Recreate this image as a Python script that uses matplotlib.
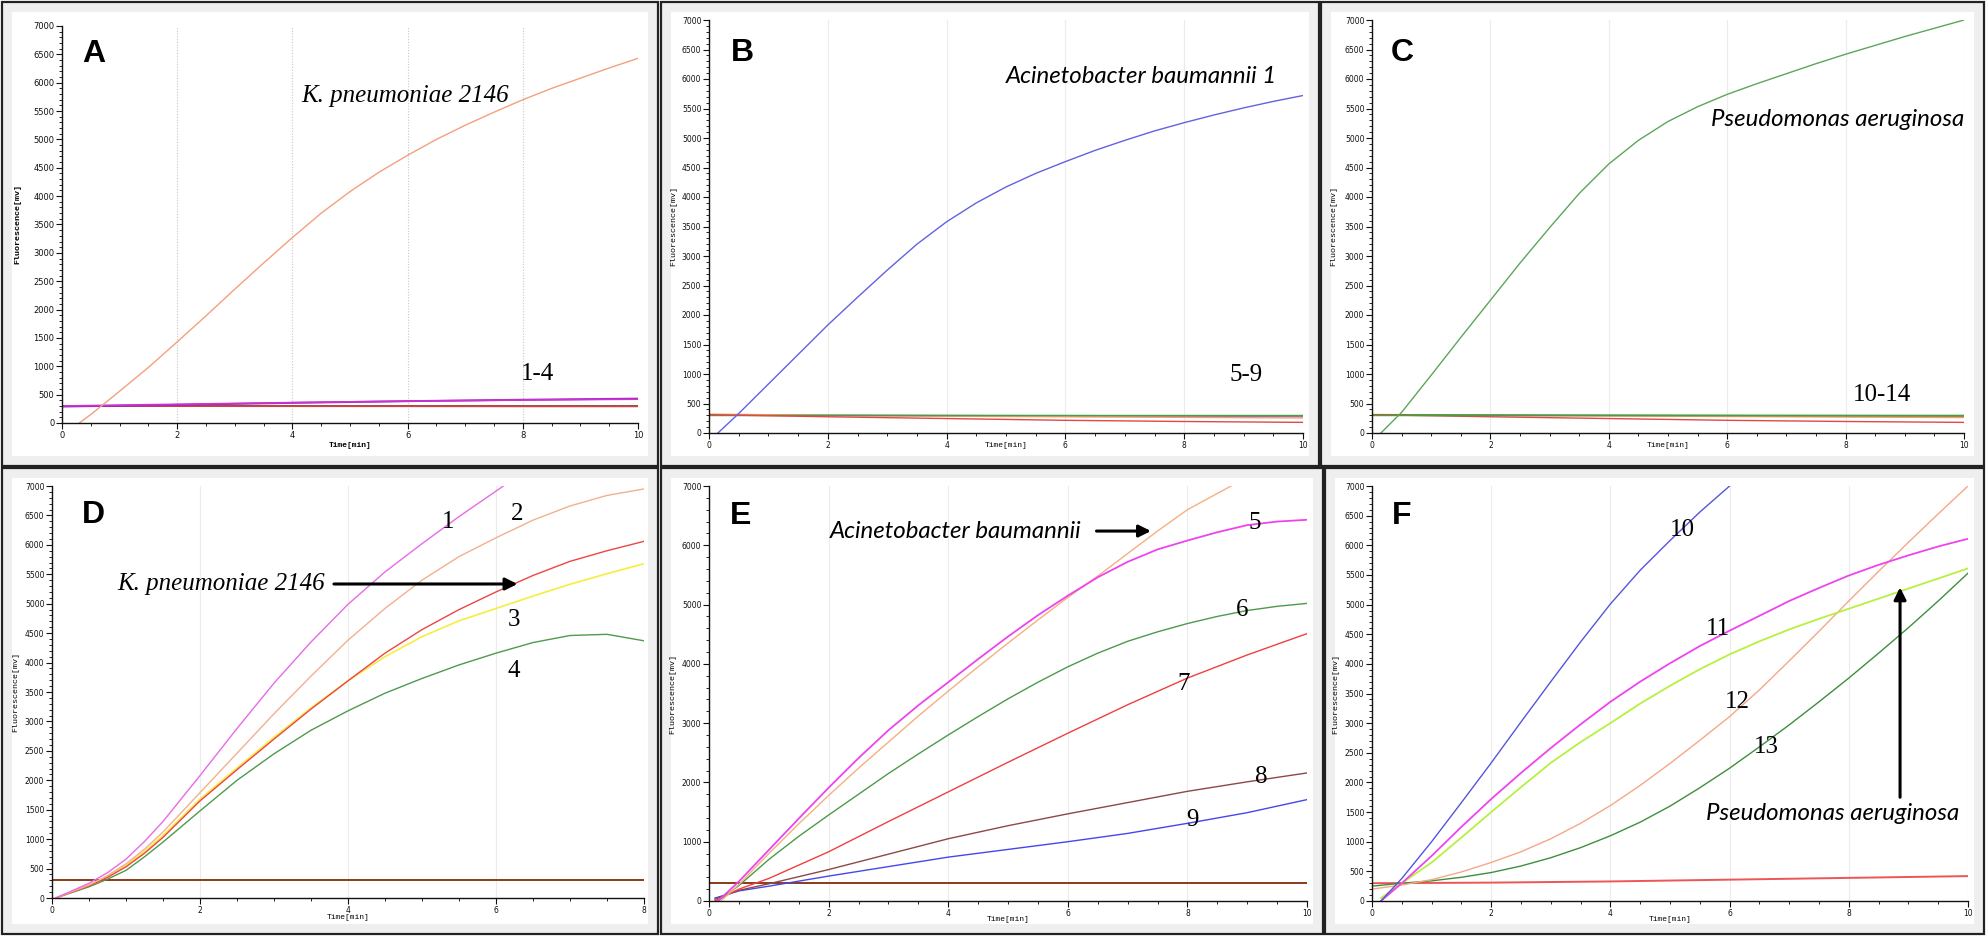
import matplotlib
matplotlib.use("Agg")
import matplotlib.pyplot as plt
from matplotlib.patches import Rectangle
from matplotlib.ticker import MultipleLocator

# ---------------- DATA ----------------
# Panel A
a_kp_t = [0.3, 0.5, 1, 1.5, 2, 2.5, 3, 3.5, 4, 4.5, 5, 5.5, 6, 6.5, 7, 7.5, 8, 8.5, 9, 9.5, 10]
a_kp_y = [0, 150, 560, 980, 1430, 1890, 2360, 2820, 3270, 3700, 4080, 4420, 4720, 5000, 5250, 5480, 5700, 5900, 6080, 6260, 6430]
a_base_t = [0, 2, 4, 6, 8, 10]
a_base_1 = [290, 320, 355, 385, 410, 430]
a_base_2 = [300, 330, 360, 385, 405, 420]
a_base_3 = [300, 300, 300, 300, 300, 300]
a_base_4 = [295, 295, 293, 292, 290, 290]

# Panel B
b_ab_t = [0.15, 0.5, 1, 1.5, 2, 2.5, 3, 3.5, 4, 4.5, 5, 5.5, 6, 6.5, 7, 7.5, 8, 8.5, 9, 9.5, 10]
b_ab_y = [0, 330, 830, 1330, 1830, 2300, 2760, 3200, 3580, 3900, 4170, 4400, 4600, 4790, 4960, 5120, 5260, 5390, 5510, 5620, 5720]
b_base_t = [0, 2, 4, 6, 8, 10]
b_base_1 = [310, 275, 245, 215, 195, 180]
b_base_2 = [320, 300, 285, 275, 265, 255]
b_base_3 = [300, 300, 300, 300, 300, 300]
b_base_4 = [300, 298, 296, 294, 292, 290]
b_base_5 = [305, 300, 295, 290, 285, 280]

# Panel C
c_pa_t = [0.15, 0.5, 1, 1.5, 2, 2.5, 3, 3.5, 4, 4.5, 5, 5.5, 6, 6.5, 7, 7.5, 8, 8.5, 9, 9.5, 10]
c_pa_y = [0, 350, 980, 1620, 2250, 2880, 3480, 4060, 4560, 4960, 5280, 5530, 5740, 5920, 6090, 6260, 6420, 6570, 6720, 6860, 7000]
c_base_t = [0, 2, 4, 6, 8, 10]
c_base_1 = [310, 275, 245, 215, 195, 180]
c_base_2 = [300, 300, 300, 300, 300, 300]
c_base_3 = [315, 300, 290, 280, 270, 262]
c_base_4 = [300, 298, 296, 294, 292, 290]
c_base_5 = [305, 302, 300, 298, 296, 295]

# Panel D (x 0-8)
d_t = [0.05, 0.5, 0.75, 1, 1.25, 1.5, 2, 2.5, 3, 3.5, 4, 4.5, 5, 5.5, 6, 6.5, 7, 7.5, 8]
d_1_t = [0.05, 0.5, 0.75, 1, 1.25, 1.5, 2, 2.5, 3, 3.5, 4, 4.5, 5, 5.5, 6.1]
d_1_y = [0, 250, 430, 660, 960, 1300, 2080, 2880, 3650, 4350, 4990, 5540, 6020, 6480, 7000]
d_2_y = [0, 220, 380, 580, 830, 1120, 1790, 2460, 3130, 3770, 4380, 4920, 5400, 5800, 6120, 6420, 6660, 6840, 6950]
d_3_y = [0, 205, 350, 530, 760, 1030, 1650, 2180, 2700, 3210, 3690, 4160, 4560, 4900, 5200, 5480, 5720, 5900, 6060]
d_yel_y = [0, 215, 365, 550, 790, 1060, 1680, 2210, 2730, 3230, 3690, 4100, 4440, 4710, 4920, 5130, 5330, 5510, 5680]
d_4_y = [0, 190, 320, 470, 700, 950, 1480, 2000, 2450, 2850, 3180, 3480, 3730, 3960, 4160, 4340, 4460, 4480, 4370]
d_base_t = [0, 8]
d_base_y = [300, 300]

# Panel E
e_5_t = [0.15, 0.5, 1, 1.5, 2, 2.5, 3, 3.5, 4, 4.5, 5, 5.5, 6, 6.5, 7, 7.5, 8, 8.5, 9, 9.5, 10]
e_5_y = [0, 330, 860, 1390, 1910, 2410, 2880, 3300, 3690, 4080, 4460, 4820, 5150, 5460, 5720, 5930, 6080, 6220, 6340, 6400, 6430]
e_ab_t = [0.2, 0.5, 1, 1.5, 2, 2.5, 3, 3.5, 4, 4.5, 5, 5.5, 6, 6.5, 7, 7.5, 8, 8.73]
e_ab_y = [0, 280, 800, 1300, 1780, 2240, 2680, 3120, 3540, 3950, 4350, 4740, 5120, 5480, 5860, 6240, 6600, 7000]
e_6_y = [0, 260, 700, 1090, 1450, 1800, 2150, 2480, 2800, 3110, 3410, 3690, 3950, 4180, 4380, 4540, 4680, 4800, 4900, 4970, 5020]
e_lin_t = [0.1, 0.5, 1, 2, 3, 4, 5, 6, 7, 8, 9, 10]
e_7_y = [0, 200, 380, 830, 1340, 1840, 2340, 2830, 3310, 3760, 4150, 4510]
e_8_y = [30, 180, 290, 530, 790, 1050, 1270, 1470, 1660, 1850, 2010, 2160]
e_9_y = [50, 170, 250, 420, 580, 740, 870, 1000, 1140, 1310, 1490, 1710]
e_base_t = [0, 10]
e_base_y = [300, 300]

# Panel F
f_10_t = [0.15, 0.5, 1, 1.5, 2, 2.5, 3, 3.5, 4, 4.5, 5, 5.5, 6]
f_10_y = [0, 380, 1000, 1660, 2330, 3020, 3700, 4370, 5010, 5580, 6080, 6560, 7000]
f_t = [0.15, 0.5, 1, 1.5, 2, 2.5, 3, 3.5, 4, 4.5, 5, 5.5, 6, 6.5, 7, 7.5, 8, 8.5, 9, 9.5, 10]
f_11_y = [0, 300, 760, 1250, 1720, 2160, 2580, 2980, 3360, 3700, 4010, 4300, 4560, 4810, 5060, 5280, 5490, 5670, 5830, 5980, 6110]
f_pa_y = [50, 300, 650, 1070, 1500, 1920, 2330, 2680, 3000, 3330, 3630, 3910, 4160, 4380, 4580, 4760, 4930, 5100, 5270, 5440, 5610]
f_t0 = [0, 0.5, 1, 1.5, 2, 2.5, 3, 3.5, 4, 4.5, 5, 5.5, 6, 6.5, 7, 7.5, 8, 8.5, 9, 9.5, 10]
f_12_y = [200, 270, 360, 490, 650, 830, 1050, 1310, 1610, 1950, 2320, 2710, 3110, 3560, 4050, 4550, 5060, 5560, 6050, 6530, 7000]
f_13_y = [250, 300, 340, 400, 480, 590, 730, 900, 1100, 1330, 1600, 1910, 2240, 2600, 2970, 3360, 3760, 4180, 4610, 5060, 5530]
f_base_t = [0, 2, 4, 6, 8, 10]
f_base_y = [300, 310, 330, 360, 390, 420]

panel_letters = ["A", "B", "C", "D", "E", "F"]

# ---------------- LAYOUT ----------------
W, H = 1986, 936
fig = plt.figure(figsize=(W / 100, H / 100), dpi=100)
fig.patch.set_facecolor("white")


def fr(x0, x1, ytop, ybot):
    return [x0 / W, 1 - ybot / H, (x1 - x0) / W, (ybot - ytop) / H]


def frame(x0, x1, ytop, ybot):
    fig.add_artist(Rectangle((x0 / W, 1 - ybot / H), (x1 - x0) / W, (ybot - ytop) / H,
                             transform=fig.transFigure, facecolor="#efefef",
                             edgecolor="#222222", lw=1.6, zorder=-10))
    m = 10
    fig.add_artist(Rectangle(((x0 + m) / W, 1 - (ybot - m) / H), (x1 - x0 - 2 * m) / W,
                             (ybot - ytop - 2 * m) / H, transform=fig.transFigure,
                             facecolor="white", edgecolor="none", zorder=-9))


frames = [(2, 658, 2, 466), (661, 1319, 2, 466), (1321, 1984, 2, 466),
          (2, 658, 468, 934), (661, 1323, 468, 934), (1325, 1984, 468, 934)]
for f in frames:
    frame(*f)

axes_px = [(62, 638, 26, 423), (709, 1303, 20, 433), (1372, 1964, 20, 433),
           (52, 644, 486, 898), (709, 1307, 486, 901), (1372, 1968, 486, 901)]
ylab_x = [21, 677, 1337, 19, 676, 1339]
xlab_top = [442, 442, 442, 914, 916, 916]
letter_pos = [(82, 62), (731, 61), (1391, 61), (82, 523), (730, 524), (1392, 524)]

axs = []
for i, (x0, x1, yt, yb) in enumerate(axes_px):
    ax = fig.add_axes(fr(x0, x1, yt, yb))
    ax.set_facecolor("none")
    xmax = 8 if i == 3 else 10
    ax.set_xlim(0, xmax)
    ax.set_ylim(0, 7000)
    for s in ("top", "right"):
        ax.spines[s].set_visible(False)
    for s in ("left", "bottom"):
        ax.spines[s].set_linewidth(1.0)
        ax.spines[s].set_color("#111111")
    ax.xaxis.set_major_locator(MultipleLocator(2))
    ax.xaxis.set_minor_locator(MultipleLocator(0.5))
    if i == 4:
        ax.yaxis.set_major_locator(MultipleLocator(1000))
        ax.yaxis.set_minor_locator(MultipleLocator(200))
    else:
        ax.yaxis.set_major_locator(MultipleLocator(500))
        ax.yaxis.set_minor_locator(MultipleLocator(100))
    fs = 6 if i == 0 else 5.5
    ax.tick_params(axis="both", which="major", length=4, width=0.8, labelsize=fs,
                   pad=1.5, colors="#111111")
    ax.tick_params(axis="both", which="minor", length=2, width=0.6)
    if i == 0:
        ax.grid(axis="x", which="major", color="#c8c8c8", lw=0.8, ls=(0, (1, 1.5)))
    else:
        ax.grid(axis="x", which="major", color="#ececec", lw=0.8)
    ax.set_axisbelow(True)
    ax.set_ylabel("Fluorescence[mv]", family="Liberation Mono", fontsize=6,
                  fontweight="bold" if i == 0 else "normal")
    ax.yaxis.set_label_coords((ylab_x[i] - x0) / (x1 - x0), 0.5)
    ax.set_xlabel("Time[min]", family="Liberation Mono", fontsize=5.8,
                  fontweight="bold" if i == 0 else "normal")
    ax.xaxis.set_label_coords(0.5, -(xlab_top[i] - yb) / (yb - yt))
    lx, ly = letter_pos[i]
    fig.text(lx / W, 1 - ly / H, panel_letters[i], family="Liberation Sans",
             fontweight="bold", fontsize=23, ha="left", va="baseline")
    axs.append(ax)

serif_it = dict(family="Liberation Serif", style="italic", fontsize=18)
sans_it = dict(family="Lato", style="italic", fontsize=17.3)
num = dict(family="Liberation Serif", fontsize=18, ha="center", va="center")
arrow = dict(arrowstyle="-|>", lw=2.2, color="black", mutation_scale=18,
             shrinkA=0, shrinkB=0)

# ---- A ----
ax = axs[0]
ax.plot(a_base_t, a_base_3, color="#8B2A2A", lw=1.2)
ax.plot(a_base_t, a_base_4, color="#CC4444", lw=1.0)
ax.plot(a_base_t, a_base_1, color="#9A22CC", lw=1.4)
ax.plot(a_base_t, a_base_2, color="#CC33CC", lw=1.2)
ax.plot(a_kp_t, a_kp_y, color="#F4A07E", lw=1.0)
ax.text(4.16, 5660, "K. pneumoniae 2146", ha="left", va="baseline", **serif_it)
ax.text(8.25, 860, "1-4", **num)

# ---- B ----
ax = axs[1]
ax.plot(b_base_t, b_base_4, color="#8B3A1A", lw=1.0)
ax.plot(b_base_t, b_base_5, color="#AA66CC", lw=1.0)
ax.plot(b_base_t, b_base_2, color="#F0A060", lw=1.0)
ax.plot(b_base_t, b_base_3, color="#44A044", lw=1.0)
ax.plot(b_base_t, b_base_1, color="#E04848", lw=1.0)
ax.plot(b_ab_t, b_ab_y, color="#6262E0", lw=1.0)
ax.text(5.0, 5930, "Acinetobacter baumannii 1", ha="left", va="baseline", **sans_it)
ax.text(9.04, 980, "5-9", **num)

# ---- C ----
ax = axs[2]
ax.plot(c_base_t, c_base_4, color="#8B3A1A", lw=1.0)
ax.plot(c_base_t, c_base_3, color="#F0A060", lw=1.0)
ax.plot(c_base_t, c_base_5, color="#2E7D2E", lw=1.0)
ax.plot(c_base_t, c_base_1, color="#E04848", lw=1.0)
ax.plot(c_base_t, c_base_2, color="#44A044", lw=1.0)
ax.plot(c_pa_t, c_pa_y, color="#5CA65C", lw=1.0)
ax.text(5.72, 5200, "Pseudomonas aeruginosa", ha="left", va="baseline", **sans_it)
ax.text(8.62, 640, "10-14", **num)

# ---- D ----
ax = axs[3]
ax.plot(d_base_t, d_base_y, color="#8B3A1A", lw=1.4)
ax.plot(d_t, d_4_y, color="#4E9A4E", lw=1.0)
ax.plot(d_t, d_yel_y, color="#F5EE40", lw=1.2)
ax.plot(d_t, d_3_y, color="#EE4444", lw=1.0)
ax.plot(d_t, d_2_y, color="#F2B090", lw=1.0)
ax.plot(d_1_t, d_1_y, color="#E86AE8", lw=1.0)
ax.annotate("", xy=(6.29, 5335), xytext=(3.81, 5335), arrowprops=arrow)
ax.text(0.88, 5335, "K. pneumoniae 2146", ha="left", va="center", **serif_it)
ax.text(5.35, 6390, "1", **num)
ax.text(6.29, 6520, "2", **num)
ax.text(6.24, 4720, "3", **num)
ax.text(6.24, 3860, "4", **num)

# ---- E ----
ax = axs[4]
ax.plot(e_base_t, e_base_y, color="#8B3A1A", lw=1.4)
ax.plot(e_lin_t, e_9_y, color="#4646EE", lw=1.0)
ax.plot(e_lin_t, e_8_y, color="#8C4848", lw=1.0)
ax.plot(e_lin_t, e_7_y, color="#EE4040", lw=1.0)
ax.plot(e_5_t, e_6_y, color="#4C9A4C", lw=1.0)
ax.plot(e_ab_t, e_ab_y, color="#F4B080", lw=1.0)
ax.plot(e_5_t, e_5_y, color="#EE44EE", lw=1.3)
ax.annotate("", xy=(7.39, 6240), xytext=(6.48, 6240), arrowprops=arrow)
ax.text(2.02, 6225, "Acinetobacter baumannii", ha="left", va="center", **sans_it)
ax.text(9.13, 6370, "5", **num)
ax.text(8.91, 4910, "6", **num)
ax.text(7.93, 3660, "7", **num)
ax.text(9.24, 2090, "8", **num)
ax.text(8.08, 1360, "9", **num)

# ---- F ----
ax = axs[5]
ax.plot(f_base_t, f_base_y, color="#EE5555", lw=1.4)
ax.plot(f_t0, f_13_y, color="#3E8E3E", lw=1.0)
ax.plot(f_t0, f_12_y, color="#F4A888", lw=1.0)
ax.plot(f_t, f_pa_y, color="#B8F040", lw=1.3)
ax.plot(f_t, f_11_y, color="#EE44EE", lw=1.3)
ax.plot(f_10_t, f_10_y, color="#5555DD", lw=1.0)
ax.annotate("", xy=(8.86, 5290), xytext=(8.86, 1750), arrowprops=arrow)
ax.text(5.60, 1470, "Pseudomonas aeruginosa", ha="left", va="center", **sans_it)
ax.text(5.21, 6250, "10", **num)
ax.text(5.80, 4580, "11", **num)
ax.text(6.13, 3360, "12", **num)
ax.text(6.61, 2590, "13", **num)

fig.savefig("out.png", dpi=100)
